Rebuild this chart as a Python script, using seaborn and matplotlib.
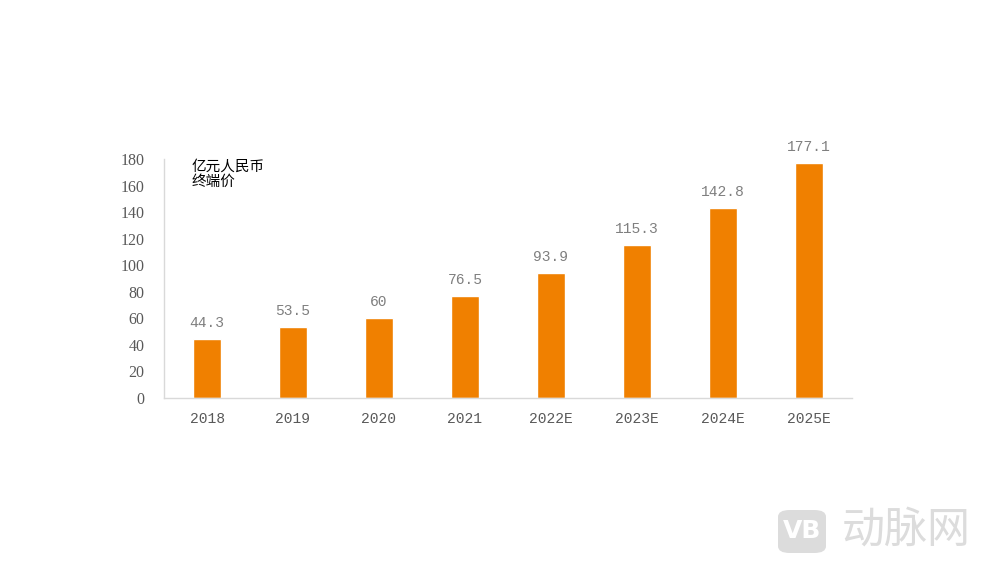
import matplotlib
matplotlib.use("Agg")
import matplotlib.pyplot as plt
import seaborn as sns
import pandas as pd
from matplotlib.patches import FancyBboxPatch

# data
years = ["2018", "2019", "2020", "2021", "2022E", "2023E", "2024E", "2025E"]
values = [44.3, 53.5, 60, 76.5, 93.9, 115.3, 142.8, 177.1]
value_labels = ["44.3", "53.5", "60", "76.5", "93.9", "115.3", "142.8", "177.1"]
yticks = [0, 20, 40, 60, 80, 100, 120, 140, 160, 180]

df = pd.DataFrame({"year": years, "value": values})

sns.set_theme(style="white")
plt.rcParams["font.family"] = ["Liberation Serif", "Noto Sans CJK SC", "DejaVu Sans"]

fig = plt.figure(figsize=(9.84, 5.65), dpi=100)
ax = fig.add_axes([0.1667, 0.2956, 0.699, 0.423])

sns.barplot(data=df, x="year", y="value", color="#F08000", saturation=1,
            width=0.33, ax=ax)

ax.set_ylim(0, 180)
ax.set_yticks(yticks)
ax.set_xlim(-0.5, len(years) - 0.5)
ax.set_xlabel("")
ax.set_ylabel("")
ax.tick_params(axis="both", length=0, colors="#595959")
ax.tick_params(axis="x", pad=10, labelsize=10.5)
ax.tick_params(axis="y", pad=14, labelsize=11.5)
for lab in ax.get_xticklabels():
    lab.set_fontfamily(["Liberation Mono", "DejaVu Sans"])
for lab in ax.get_yticklabels():
    lab.set_fontfamily(["Liberation Serif", "DejaVu Sans"])

for s in ["top", "right"]:
    ax.spines[s].set_visible(False)
ax.spines["left"].set_color("#D9D9D9")
ax.spines["bottom"].set_color("#D9D9D9")
ax.spines["left"].set_linewidth(1)
ax.spines["bottom"].set_linewidth(1)

# value labels
for i, (v, t) in enumerate(zip(values, value_labels)):
    ax.text(i, v + 7, t, ha="center", va="bottom", fontsize=10.5,
            color="#7F7F7F", family=["Liberation Mono", "DejaVu Sans"])

# unit note
ax.text(0.04, 0.995, "亿元人民币\n终端价", transform=ax.transAxes, ha="left", va="top",
        fontsize=10.5, color="#000000", linespacing=1.1,
        family=["Noto Sans CJK SC", "DejaVu Sans"])

# watermark
box = FancyBboxPatch((778 / 984, 12 / 565), 48 / 984, 43 / 565,
                     boxstyle="round,pad=0,rounding_size=0.012",
                     transform=fig.transFigure, facecolor="#DCDCDC",
                     edgecolor="none")
fig.patches.append(box)
fig.text(802 / 984, 33.5 / 565, "VB", ha="center", va="center", fontsize=18,
         color="white", fontweight="bold", family=["DejaVu Sans"])
fig.text(906 / 984, 34 / 565, "动脉网", ha="center", va="center", fontsize=31,
         color="#DCDCDC", family=["Noto Sans CJK SC", "DejaVu Sans"])

fig.savefig("out.png", dpi=100)
